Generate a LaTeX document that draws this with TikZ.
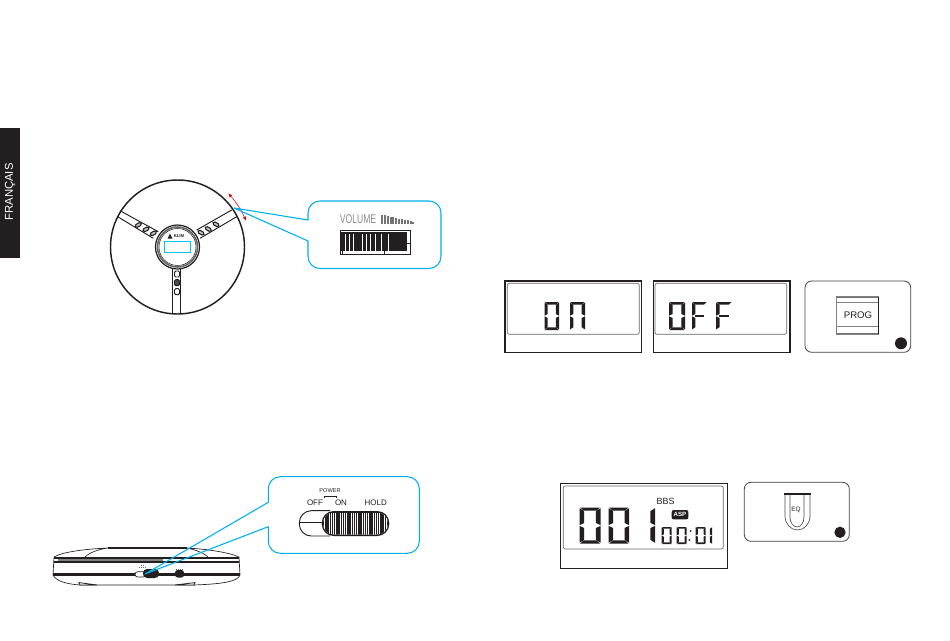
\documentclass[tikz,border=0pt]{standalone}
\usepackage{fontspec}
\setmainfont{Liberation Sans}
\usetikzlibrary{arrows.meta}
\definecolor{inkblack}{HTML}{231F20}
\definecolor{leadblue}{HTML}{00AEEF}
\tikzset{
    leader/.style = {draw=leadblue,line width=0.8pt,line join=round},
    outerbox/.style = {draw=inkblack,line width=0.8pt},
    innerbox/.style = {draw=black!60,line width=0.5pt,rounded corners=1.5pt},
    keybox/.style = {draw=black!75,line width=0.6pt,rounded corners=5pt},
    thinline/.style = {draw=inkblack,line width=0.7pt},
    inkdot/.style = {circle,fill=inkblack,inner sep=0pt},
    label8/.style = {inner sep=0pt,text=inkblack},
    segtop/.pic = {\fill[inkblack] (0.03,0) -- (0.97,0) -- (0.8,0.09) -- (0.2,0.09) -- cycle;},
    segbot/.pic = {\fill[inkblack] (0.03,1) -- (0.97,1) -- (0.8,0.91) -- (0.2,0.91) -- cycle;},
    segmid/.pic = {\fill[inkblack] (0.2,0.46) -- (0.8,0.46) -- (0.8,0.54) -- (0.2,0.54) -- cycle;},
    segul/.pic = {\fill[inkblack] (0,0.02) -- (0.22,0.1) -- (0.22,0.43) -- (0,0.49) -- cycle;},
    segll/.pic = {\fill[inkblack] (0,0.51) -- (0.22,0.57) -- (0.22,0.9) -- (0,0.98) -- cycle;},
    segur/.pic = {\fill[inkblack] (1,0.02) -- (0.78,0.1) -- (0.78,0.43) -- (1,0.49) -- cycle;},
    seglr/.pic = {\fill[inkblack] (1,0.51) -- (0.78,0.57) -- (0.78,0.9) -- (1,0.98) -- cycle;}
}
% x, y, width, height, segments
\newcommand{\lcddigit}[5]{
  \begin{scope}[shift={(#1,#2)},x=#3*0.75pt,y=#4*-0.75pt,xslant=0.12]
    \foreach \s in {#5} {\pic at (0,0) {seg\s};}
  \end{scope}
}
\begin{document}
\begin{tikzpicture}[x=0.75pt,y=-0.75pt]
  \useasboundingbox (0,0) rectangle (950,640);

% side tab
\fill[inkblack] (0,128) rectangle (20,258);
\node[rotate=90,text=white,font=\fontsize{8.5}{10}\selectfont,inner sep=0pt] (lang) at (10,192) {FRANÇAIS};

% wheel
\coordinate (hub) at (177.5,247);
\draw[inkblack,line width=1.1pt] (hub) circle[radius=67];
\draw[thinline] (120,210.7) -- (158.3,231.7) (117.7,216.7) -- (153.3,238.3);
\draw[thinline] (196.7,230) -- (231.7,210) (200,238.3) -- (236.7,216.7);
\draw[thinline] (172.7,267) -- (172.7,313.5) (180.7,267) -- (180.7,313.5);
\draw[inkblack,line width=0.9pt,fill=white] (hub) circle[radius=22];
\draw[black!60,line width=1.2pt] (hub) circle[radius=20];
\draw[inkblack,line width=0.4pt] (hub) circle[radius=18.5];
\foreach \px/\py/\ang in {138.3/225/29,146/229.3/29,153.3/233.3/29,201/232.7/-30,208.3/229/-30,216/224.3/-30}
  \draw[inkblack,line width=0.8pt,fill=black!25,rounded corners=1.2pt,rotate around={\ang:(\px,\py)}] (\px-3.4,\py-1.6) rectangle (\px+3.4,\py+1.6);
\foreach \py/\tone in {274/white,282.7/black!70,291.7/white}
  \draw[inkblack,line width=0.7pt,fill=\tone,rounded corners=1pt] (174.5,\py-3) rectangle (179.5,\py+3);
\draw[leadblue!70!cyan,line width=0.7pt] (164,241.3) rectangle (190.7,252.3);
\fill[inkblack] (167.5,238.5) -- (170,233.5) -- (172.5,238.5) -- cycle;
\node[label8,font=\bfseries\fontsize{3.2}{4}\selectfont] (brand) at (179,236) {KLIM};
\draw[red!80!black,line width=0.4pt,{Latex[length=3pt,width=2.5pt]}-{Latex[length=3pt,width=2.5pt]}] (228.3,193.3) to[bend left=8] (246,220.7);

% volume callout
\coordinate (voltip) at (234,208);
\coordinate (volhi) at (308,220);
\coordinate (vollo) at (308,241);
\draw[leader] (voltip) -- (volhi) [rounded corners=9pt] -- (308,201) -- (441,201) -- (441,268.5) -- (308,268.5) [sharp corners] -- (vollo) -- (voltip);
\node[text=black!45,font=\fontsize{9.5}{11}\selectfont,xscale=0.68,inner sep=0pt] (voltext) at (358,219.3) {VOLUME};
\foreach \i in {0,...,11}
  \fill[black!55] ({381+\i*2.85},{224.3-9.5+\i*0.62}) rectangle ({383+\i*2.85},224.3);
\draw[thinline,fill=white] (340.3,230.7) rectangle (410.3,254.3);
\fill[inkblack] (340.6,232.3) rectangle (407.3,250.7);
\foreach \i in {345,349,353.3,362.7,366.7,370.7,375,381.7,388.3}
  \draw[white,line width=0.55pt] (\i,233.5) -- (\i,250.7);
\draw[thinline,line width=0.4pt] (407.3,243) -- (410.3,243) (342,250.7) -- (342,254.3) (384.3,250.7) -- (384.3,254.3);

% player side view
\draw[inkblack,line width=0.5pt] (54,557) .. controls (62,552) and (85,549) .. (108,548) (85,557) .. controls (90,552) and (100,549) .. (108,548);
\draw[inkblack,line width=0.5pt] (187,548) .. controls (205,549) and (228,552) .. (239,557) (187,548) .. controls (192,549) and (203,552) .. (208,557);
\draw[inkblack,line width=1.3pt] (108,548) -- (187,548);
\draw[inkblack,line width=1.3pt] (54,558.3) -- (239,558.3);
\draw[inkblack,line width=1.3pt] (54,561.7) -- (239,561.7);
\draw[black!50,line width=1pt] (58,560) -- (163,560);
\draw[inkblack,line width=0.5pt] (54,557) -- (53,575) .. controls (56,581) and (66,584) .. (80,585) -- (193,585) .. controls (225,584) and (238,581) .. (240,575) -- (239,557);
\draw[inkblack,line width=1.9pt] (53,574.5) -- (240,574.5);
\draw[inkblack,line width=0.6pt,fill=white] (79,582.6) -- (97,585) -- (80,585) -- cycle (175,585) -- (195,582.6) -- (194,585) -- cycle;
\draw[inkblack,line width=0.5pt,fill=white,rounded corners=2pt] (135,571.7) rectangle (146,577);
\fill[inkblack,rounded corners=3pt] (143,569) rectangle (159,578);
\fill[inkblack,rounded corners=2pt] (175,570) rectangle (184,577.5);
\draw[black!60,line width=0.6pt,dash pattern=on 1pt off 0.5pt] (176,569) -- (183,569) (139,567) -- (147,567) (141,565.5) -- (145,565.5);

% switch callout
\coordinate (swtip) at (145,574);
\coordinate (swhi) at (268.3,502.3);
\coordinate (swlo) at (268.3,526.7);
\draw[leader] (swtip) -- (swhi) [rounded corners=9pt] -- (268.3,476.7) -- (419.3,476.7) -- (419.3,553.3) -- (268.3,553.3) [sharp corners] -- (swlo) -- (swtip);
\node[label8,font=\fontsize{4.2}{5}\selectfont] (power) at (330,490.7) {POWER};
\node[label8,font=\fontsize{6}{7}\selectfont] (off) at (315,503) {OFF};
\node[label8,font=\fontsize{6}{7}\selectfont] (on) at (341,503) {ON};
\node[label8,font=\fontsize{6}{7}\selectfont] (hold) at (375.7,503) {HOLD};
\draw[inkblack,line width=0.4pt] (324.3,498.3) -- (324.3,496) -- (336,496) -- (336,498.3);
\draw[thinline,rounded corners=9pt] (330,510.7) -- (299.3,510.7) -- (299.3,536) -- (330,536);
\draw[thinline] (299.3,522.3) -- (322,522.3);
\fill[inkblack,rounded corners=9pt] (321.7,511) rectangle (389.3,536);
\begin{scope}
  \clip[rounded corners=8pt] (323,512.5) rectangle (388,534.5);
  \fill[white] (323,512.5) rectangle (388,534.5);
  \foreach \i in {0,...,29}
    \fill[inkblack] ({323+\i*2.2},512) rectangle ({324.35+\i*2.2},535);
\end{scope}

% lcd on and off
\draw[outerbox] (505,281) rectangle (641.7,352.3);
\draw[innerbox] (507.3,283.3) rectangle (639.3,334.3);
\lcddigit{544.5}{302}{14.5}{28}{top,bot,ul,ur,ll,lr}
\lcddigit{570}{302}{15}{28}{top,ul,ur,ll,lr}
\draw[outerbox] (653.3,281) rectangle (790,352.3);
\draw[innerbox] (655,283.3) rectangle (786.7,334.3);
\lcddigit{669}{302}{16}{28}{top,bot,ul,ur,ll,lr}
\lcddigit{692}{302}{15}{28}{top,mid,ul,ll}
\lcddigit{716}{302}{16}{28}{top,mid,ul,ll}

% prog key
\draw[keybox] (805,281) rectangle (910.7,352.3);
\draw[black!55,line width=1.1pt] (836,297) -- (878.3,297) (836,334) -- (878.3,334);
\draw[black!50,line width=0.5pt] (836,296.7) rectangle (878.3,334.3) (836,302.3) -- (878.3,302.3) (836,326.7) -- (878.3,326.7);
\draw[inkblack,line width=1pt] (878.3,296.7) -- (878.3,334.3);
\node[label8,font=\fontsize{7.2}{9}\selectfont] (prog) at (858,315) {PROG};
\node[inkdot,minimum size=9pt] (progdot) at (901,343.3) {};

% lcd counter
\draw[outerbox] (560.7,483.3) rectangle (727.3,568.3);
\draw[innerbox] (563.3,486) rectangle (723.3,549);
\lcddigit{579.6}{507.5}{21}{36}{top,bot,ul,ur,ll,lr}
\lcddigit{608.6}{507.5}{20.5}{36}{top,bot,ul,ur,ll,lr}
\lcddigit{634.5}{507.5}{20.5}{36}{ur,lr}
\lcddigit{661.7}{527}{10}{17}{top,bot,ul,ur,ll,lr}
\lcddigit{676.7}{527}{10}{17}{top,bot,ul,ur,ll,lr}
\lcddigit{695.7}{527}{10}{17}{top,bot,ul,ur,ll,lr}
\lcddigit{702}{527}{10}{17}{ur,lr}
\fill[inkblack] (690.6,531) circle[radius=1] (689.4,540) circle[radius=1];
\node[label8,font=\fontsize{6.75}{8}\selectfont] (bbs) at (665.7,501.7) {BBS};
\node[fill=inkblack,text=white,rounded corners=1.5pt,inner sep=0pt,minimum width=12.5pt,minimum height=7pt,font=\bfseries\fontsize{4.6}{5}\selectfont] (asp) at (680,514.7) {ASP};

% eq key
\draw[keybox] (744.3,482.3) rectangle (849.3,541.3);
\draw[black!70,line width=0.5pt] (785,494) -- (785,516) arc[start angle=180,end angle=360,x radius=12.5,y radius=-14] -- (810,494);
\draw[black!70,line width=0.5pt] (790,494) -- (790,517) arc[start angle=180,end angle=360,x radius=7,y radius=-10] -- (804,494);
\draw[inkblack,line width=1pt] (784.3,494) -- (810.7,494);
\node[label8,font=\fontsize{4.8}{6}\selectfont] (eq) at (796,509.7) {EQ};
\node[inkdot,minimum size=8.5pt] (eqdot) at (840,532.3) {};

\end{tikzpicture}
\end{document}
